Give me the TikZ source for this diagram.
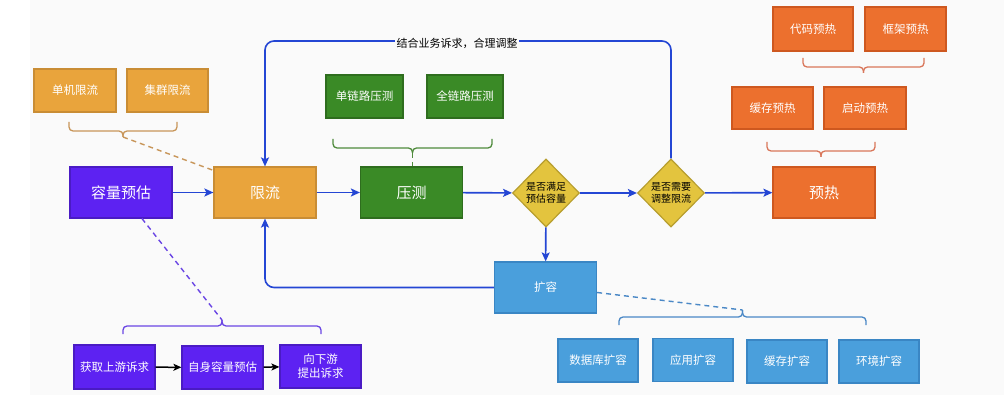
\documentclass[tikz,border=0pt]{standalone}
\usepackage{fontspec}
\setmainfont{Noto Sans CJK SC}
\usetikzlibrary{shapes.geometric,arrows.meta,calc}
\definecolor{cpur}{HTML}{5D22F2}
\definecolor{cpurd}{HTML}{4A1BC4}
\definecolor{corg}{HTML}{E9A43C}
\definecolor{corgd}{HTML}{C98D35}
\definecolor{cgrn}{HTML}{3A8A26}
\definecolor{cgrnd}{HTML}{2E6D1E}
\definecolor{cyel}{HTML}{E3C43E}
\definecolor{cyeld}{HTML}{B79E2E}
\definecolor{cred}{HTML}{EC702E}
\definecolor{credd}{HTML}{CE581F}
\definecolor{cblu}{HTML}{4A9FDC}
\definecolor{cblud}{HTML}{3A86C4}
\definecolor{carrow}{HTML}{2446D4}
\definecolor{bgorg}{HTML}{C8965A}
\definecolor{bggrn}{HTML}{4F8B3C}
\definecolor{bgred}{HTML}{D9765A}
\definecolor{bgpur}{HTML}{6A45E4}
\definecolor{bgblu}{HTML}{4A88C6}
\definecolor{cbg}{HTML}{FAFAFA}
\newcommand{\hbrace}[7]{%
  \pgfmathsetmacro{\bxc}{(#2+#3)/2}%
  \coordinate (#7) at (\bxc,#6);
  \draw[#1,line width=1.3pt,rounded corners=4pt] (#2,#4) -- (#2,#5) -- (\bxc,#5) -- (#7);
  \draw[#1,line width=1.3pt,rounded corners=4pt] (#3,#4) -- (#3,#5) -- (\bxc,#5) -- (#7);}
\begin{document}
\begin{tikzpicture}[x=1pt,y=-1pt,
  box/.style={draw, line width=1.2pt, inner sep=0pt, align=center, text=white,
    font=\fontsize{11.5}{14}\selectfont},
  sbox/.style={box, minimum width=81pt, minimum height=43pt},
  bbox/.style={box, minimum width=102pt, minimum height=51pt, font=\fontsize{15}{18}\selectfont},
  purp/.style={fill=cpur, draw=cpurd},
  orng/.style={fill=corg, draw=corgd},
  gren/.style={fill=cgrn, draw=cgrnd},
  redd/.style={fill=cred, draw=credd},
  blue/.style={fill=cblu, draw=cblud},
  dia/.style={diamond, draw=cyeld, fill=cyel, line width=1.2pt, inner sep=0pt,
    minimum width=67pt, minimum height=68pt, align=center, text=black,
    font=\fontsize{10}{12}\selectfont},
  flow/.style={draw=carrow, line width=1.6pt, -{Stealth[length=9pt,width=8pt,inset=2pt]}},
  bflow/.style={draw=black, line width=1.5pt, -{Stealth[length=8pt,width=7pt,inset=2pt]}},
  dashlink/.style={dashed, dash pattern=on 5pt off 4pt, line width=1.4pt}]
\useasboundingbox (0,0) rectangle (1004,406);
\fill[white] (0,0) rectangle (1004,406);
\fill[cbg] (30,0) rectangle (1004,395);

% main flow
\node[bbox, purp] (rl) at (121,192.5) {容量预估};
\node[bbox, orng] (xl) at (265,192.5) {限流};
\node[bbox, gren] (yc) at (411.5,192.5) {压测};
\node[dia] (d1) at (546,193) {是否满足\\预估容量};
\node[dia] (d2) at (671,193) {是否需要\\调整限流};
\node[bbox, redd] (yr) at (824,192.5) {预热};
\node[bbox, blue, font=\fontsize{11.5}{14}\selectfont] (kr) at (545.5,287.5) {扩容};

% limit sub-items
\node[sbox, orng, minimum width=82pt] (dj) at (75,90.5) {单机限流};
\node[sbox, orng] (jq) at (167.5,90.5) {集群限流};
% stress test sub-items
\node[sbox, gren, minimum width=77pt] (dl) at (364.5,96.5) {单链路压测};
\node[sbox, gren, minimum width=76pt] (ql) at (465,96.5) {全链路压测};
% warmup sub-items
\node[sbox, redd, minimum width=80pt, minimum height=44pt] (dm) at (813,29) {代码预热};
\node[sbox, redd, minimum height=44pt] (kj) at (905.5,29) {框架预热};
\node[sbox, redd, minimum height=42pt] (hc) at (772.5,108) {缓存预热};
\node[sbox, redd, minimum width=82pt, minimum height=42pt] (qd) at (865,108) {启动预热};
% capacity estimation sub-items
\node[sbox, purp, minimum height=44pt] (hq) at (114.5,367) {获取上游诉求};
\node[sbox, purp] (zs) at (222.5,367.5) {自身容量预估};
\node[sbox, purp] (xx) at (320.5,366.5) {向下游\\提出诉求};
% scale-out sub-items
\node[sbox, blue, minimum width=80pt] (sj) at (598,360.5) {数据库扩容};
\node[sbox, blue, minimum width=80pt] (yy) at (693,360) {应用扩容};
\node[sbox, blue, minimum width=80pt] (hk) at (787,361.5) {缓存扩容};
\node[sbox, blue, minimum width=80pt] (hj) at (879,361.5) {环境扩容};

% main arrows
\draw[flow] (rl) -- (xl);
\draw[flow] (xl) -- (yc);
\draw[flow] (yc) -- (d1);
\draw[flow] (d1) -- (d2);
\draw[flow] (d2) -- (yr);
\draw[flow] (d1) -- (kr);
\coordinate (topy) at (0,41);
\draw[flow, rounded corners=9pt] (d2.north) |- (xl.north |- topy) -- (xl.north);
\node[fill=cbg, inner sep=1.5pt, font=\fontsize{11}{13}\selectfont, text=black] (lbl) at (457,43) {结合业务诉求，合理调整};
\draw[flow, rounded corners=9pt] (kr.west) -| (xl.south);

% bottom purple chain
\draw[bflow] (hq) -- (zs);
\draw[bflow] (zs) -- (xx);

% braces
\hbrace{bgorg}{69}{177}{122}{131}{137}{tor}
\hbrace{bggrn}{333}{492}{139}{148}{153}{tgr}
\hbrace{bgred}{803}{924}{58}{67}{73}{tr1}
\hbrace{bgred}{767}{875}{142}{151}{157}{tr2}
\hbrace{bgpur}{123}{321}{334}{326}{320}{tpu}
\hbrace{bgblu}{619}{866}{325}{317}{310}{tbl}

% dashed links
\draw[dashlink, draw=bgorg] (tor) -- ($(xl.north west)+(0,4)$);
\draw[dashlink, draw=bggrn] (tgr) -- (tgr |- yc.north);
\draw[dashlink, draw=bgpur] ($(rl.south)+(21,0)$) -- (tpu);
\draw[dashlink, draw=bgblu] ($(kr.east)+(0,5)$) -- (tbl);
\end{tikzpicture}
\end{document}
